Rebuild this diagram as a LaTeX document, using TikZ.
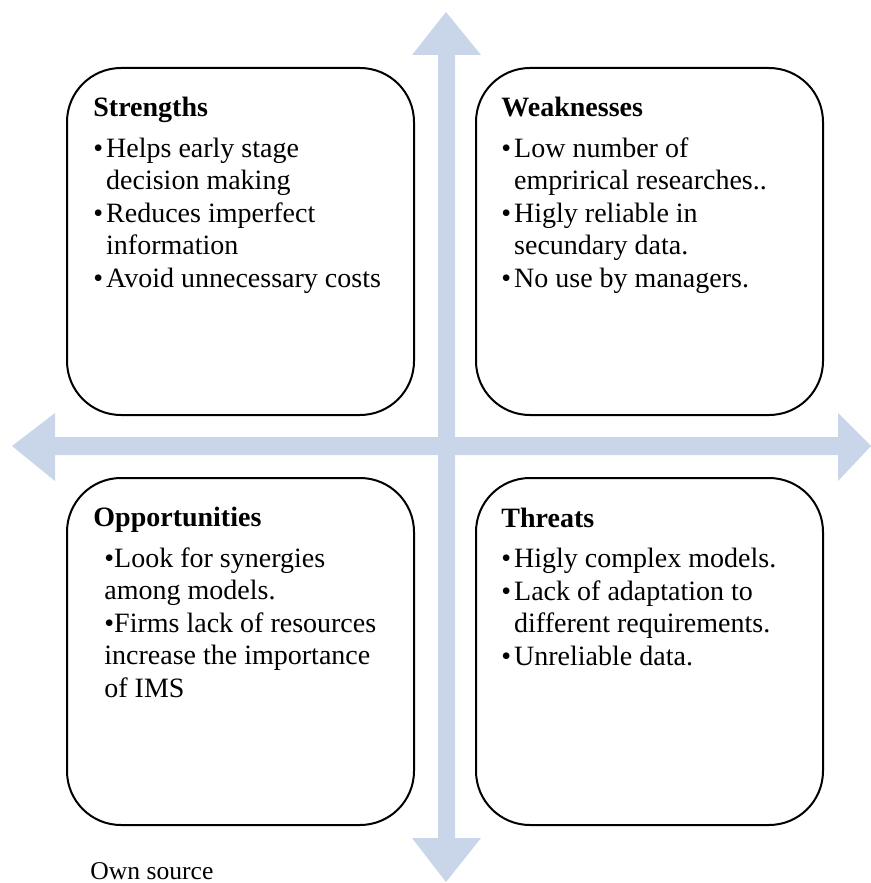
\documentclass[tikz,border=0pt]{standalone}
\usepackage{fontspec}
\setmainfont{Liberation Serif}
\usetikzlibrary{calc}

\definecolor{axisblue}{RGB}{201,213,232}

\newcommand{\bul}{\textbullet\hspace{1.5pt}}
\newcommand{\cont}{\hphantom{\textbullet\hspace{1.5pt}}}

\tikzset{
	quad/.style={draw=black,line width=1pt,rounded corners=27pt,fill=white,
		minimum width=173.5pt,minimum height=173.5pt,inner sep=0pt},
	swot/.style={anchor=base west,align=left,inner sep=0pt,
		font=\fontsize{14}{16.25}\selectfont}
}

\begin{document}
\begin{tikzpicture}[x=0.5pt,y=-0.5pt]

\useasboundingbox (0,0) rectangle (871,883);

%draw axes
\fill[axisblue] (446,12)--(481,55)--(455,55)--(455,838)--(481,838)--(446,882)
	--(412,838)--(438,838)--(438,55)--(412,55)--cycle;
\fill[axisblue] (12,446)--(55,413)--(55,437)--(838,437)--(838,413)--(871,446)
	--(838,481)--(838,455)--(55,455)--(55,481)--cycle;

%draw quadrants
\node[quad](strengths) at (240.5,241.5){};
\node[quad](weaknesses) at (649.5,241.5){};
\node[quad](opportunities) at (240.5,651.5){};
\node[quad](threats) at (649.5,651.5){};

%add texts (node base = last line)
\node[swot](strtext) at (93,287){\textbf{Strengths}\\[3.8pt]
	\bul Helps early stage\\ \cont decision making\\
	\bul Reduces imperfect\\ \cont information\\
	\bul Avoid unnecessary costs};
\node[swot](weaktext) at (501,287){\textbf{Weaknesses}\\[3.8pt]
	\bul Low number of\\ \cont emprirical researches..\\
	\bul Higly reliable in\\ \cont secundary data.\\
	\bul No use by managers.};
\node[swot](opptext) at (93,697){\textbf{Opportunities}\\[3.8pt]
	\hspace*{5.5pt}\textbullet Look for synergies\\
	\hspace*{5.5pt}among models.\\
	\hspace*{5.5pt}\textbullet Firms lack of resources\\
	\hspace*{5.5pt}increase the importance\\
	\hspace*{5.5pt}of IMS};
\node[swot](thrtext) at (501,665){\textbf{Threats}\\[3.8pt]
	\bul Higly complex models.\\
	\bul Lack of adaptation to\\ \cont different requirements.\\
	\bul Unreliable data.};

\node[anchor=base west,inner sep=0pt,font=\fontsize{12.8}{15}\selectfont](source) at (90,879){Own source};
\end{tikzpicture}
\end{document}
